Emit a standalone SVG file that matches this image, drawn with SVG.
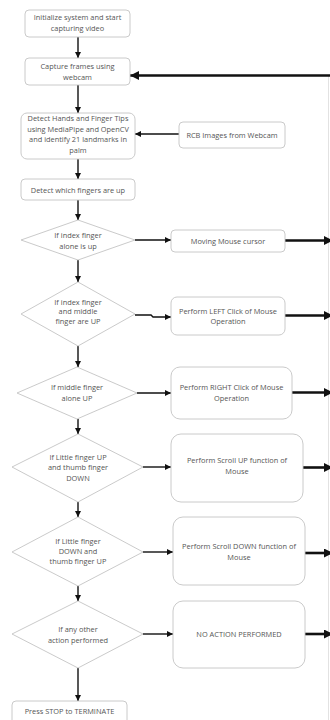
<svg xmlns="http://www.w3.org/2000/svg" width="330" height="720" viewBox="0 0 330 720">
<style>
.n{fill:#fff;stroke:#c4c4c4;stroke-width:0.9}
.t{font-family:"Open Sans","Noto Sans",sans-serif;font-size:7.4px;fill:#555;text-anchor:middle}
.c{fill:none;stroke:#111;stroke-width:1.4}
.k{fill:none;stroke:#111;stroke-width:2.6}
</style>
<defs>
<marker id="a" viewBox="0 0 10 10" refX="10" refY="5" markerWidth="6" markerHeight="6" markerUnits="userSpaceOnUse" orient="auto"><path d="M0,0L10,5L0,10z" fill="#111"/></marker>
<marker id="b" viewBox="0 0 10 10" refX="10" refY="5" markerWidth="9" markerHeight="9" markerUnits="userSpaceOnUse" orient="auto"><path d="M0,0L10,5L0,10z" fill="#111"/></marker>
</defs>
<rect width="330" height="720" fill="#fff"/>
<line x1="328.5" y1="76" x2="328.5" y2="720" stroke="#e2e2e2" stroke-width="1"/>
<g id="connectors">
<path class="c" d="M78,37V58" marker-end="url(#a)"/>
<path class="c" d="M78,85V113" marker-end="url(#a)"/>
<path class="c" d="M179,134H135" marker-end="url(#a)"/>
<path class="c" d="M78,159V179" marker-end="url(#a)"/>
<path class="c" d="M78,200V220" marker-end="url(#a)"/>
<path class="c" d="M135,240H171" marker-end="url(#a)"/>
<path class="c" d="M78,260V282" marker-end="url(#a)"/>
<path class="c" d="M135,315H151L153,317H171" marker-end="url(#a)"/>
<path class="c" d="M78,346V367" marker-end="url(#a)"/>
<path class="c" d="M137,393H171" marker-end="url(#a)"/>
<path class="c" d="M78,419V434" marker-end="url(#a)"/>
<path class="c" d="M143,467H171" marker-end="url(#a)"/>
<path class="c" d="M78,502V517" marker-end="url(#a)"/>
<path class="c" d="M143,552H173" marker-end="url(#a)"/>
<path class="c" d="M78,586V601" marker-end="url(#a)"/>
<path class="c" d="M143,634H173" marker-end="url(#a)"/>
<path class="c" d="M78,668V701" marker-end="url(#a)"/>
<path class="k" d="M333,75.5H130" marker-end="url(#b)"/>
<path class="k" d="M285,240.5H333" marker-end="url(#b)"/>
<path class="k" d="M285,315.5H333" marker-end="url(#b)"/>
<path class="k" d="M292,392.5H333" marker-end="url(#b)"/>
<path class="k" d="M303,467.5H333" marker-end="url(#b)"/>
<path class="k" d="M305,553H333" marker-end="url(#b)"/>
<path class="k" d="M305,634H333" marker-end="url(#b)"/>
</g>
<g id="n1"><rect class="n" x="25" y="10" width="105" height="27" rx="4"/><text class="t" x="77.5" y="20">Initialize system and start</text><text class="t" x="77.5" y="31">capturing video</text></g>
<g id="n2"><rect class="n" x="25" y="58" width="105" height="27" rx="4"/><text class="t" x="77.5" y="68.5">Capture frames using</text><text class="t" x="77.5" y="79.5">webcam</text></g>
<g id="n3"><rect class="n" x="21" y="113" width="114" height="46" rx="6"/><text class="t" x="78" y="121">Detect Hands and Finger Tips</text><text class="t" x="78" y="131.5">using MediaPipe and OpenCV</text><text class="t" x="78" y="142">and identify 21 landmarks in</text><text class="t" x="78" y="152.5">palm</text></g>
<g id="n4"><rect class="n" x="179" y="122" width="106" height="26" rx="4"/><text class="t" x="232" y="137.5">RCB Images from Webcam</text></g>
<g id="n5"><rect class="n" x="21" y="179" width="114" height="21" rx="4"/><text class="t" x="78" y="192.5">Detect which fingers are up</text></g>
<g id="d1"><path class="n" d="M78,220L135,240L78,260L21,240Z"/><text class="t" x="78" y="237.5">If index finger</text><text class="t" x="78" y="248.5">alone is up</text></g>
<g id="a1"><rect class="n" x="171" y="230" width="114" height="22" rx="4"/><text class="t" x="228" y="243.5">Moving Mouse cursor</text></g>
<g id="d2"><path class="n" d="M78,282L135,314L78,346L21,314Z"/><text class="t" x="78" y="304.5">If index finger</text><text class="t" x="78" y="314">and middle</text><text class="t" x="78" y="323.5">finger are UP</text></g>
<g id="a2"><rect class="n" x="171" y="297" width="114" height="38" rx="6"/><text class="t" x="228" y="313.5">Perform LEFT Click of Mouse</text><text class="t" x="228" y="323.5">Operation</text></g>
<g id="d3"><path class="n" d="M77,367L137,393L77,419L17,393Z"/><text class="t" x="77" y="390">If middle finger</text><text class="t" x="77" y="401">alone UP</text></g>
<g id="a3"><rect class="n" x="171" y="367" width="121" height="52" rx="9"/><text class="t" x="231.5" y="390">Perform RIGHT Click of Mouse</text><text class="t" x="231.5" y="400.5">Operation</text></g>
<g id="d4"><path class="n" d="M78,434L143,467L78,502L12,467Z"/><text class="t" x="78" y="459.5">If Little finger UP</text><text class="t" x="78" y="470">and thumb finger</text><text class="t" x="78" y="480.5">DOWN</text></g>
<g id="a4"><rect class="n" x="171" y="434" width="132" height="68" rx="10"/><text class="t" x="237" y="463">Perform Scroll UP function of</text><text class="t" x="237" y="474">Mouse</text></g>
<g id="d5"><path class="n" d="M78,517L143,552L78,586L12,552Z"/><text class="t" x="78" y="543.5">If Little finger</text><text class="t" x="78" y="553.5">DOWN and</text><text class="t" x="78" y="564">thumb finger UP</text></g>
<g id="a5"><rect class="n" x="173" y="517" width="132" height="68" rx="10"/><text class="t" x="239" y="549">Perform Scroll DOWN function of</text><text class="t" x="239" y="559.5">Mouse</text></g>
<g id="d6"><path class="n" d="M78,601L143,634L78,668L12,634Z"/><text class="t" x="78" y="632">If any other</text><text class="t" x="78" y="643">action performed</text></g>
<g id="a6"><rect class="n" x="173" y="601" width="132" height="67" rx="10"/><text class="t" x="239" y="637">NO ACTION PERFORMED</text></g>
<g id="n6"><rect class="n" x="12" y="701" width="115" height="24" rx="4"/><text class="t" x="69.5" y="713.5">Press STOP to TERMINATE</text></g>
</svg>
